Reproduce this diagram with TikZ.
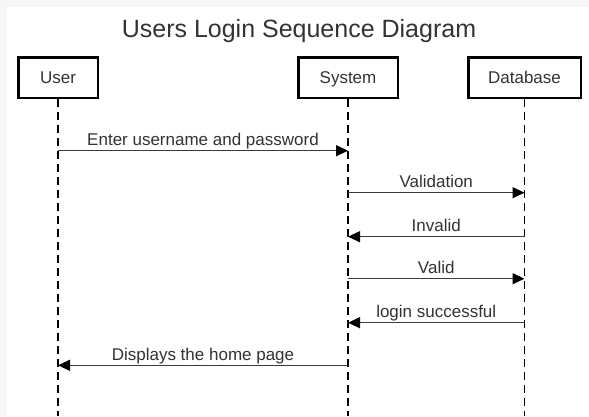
\documentclass[tikz,border=0pt]{standalone}
\usepackage{fontspec}
\setmainfont{Liberation Sans}
\usetikzlibrary{arrows.meta}
\definecolor{textgray}{HTML}{333333}
\definecolor{linegray}{HTML}{3A3A3A}
\definecolor{framegray}{HTML}{F6F6F6}
\begin{document}
\begin{tikzpicture}[x=1pt,y=-1pt,
  actor/.style={draw=black, line width=2.5pt, inner sep=0pt,
    minimum height=40.5pt, text height=12.2pt, text depth=0pt,
    font=\fontsize{17}{20}\selectfont, text=textgray},
  lifeline/.style={draw=black, line width=1.5pt, dash pattern=on 8pt off 5pt},
  msg/.style={draw=linegray, line width=1.3pt,
    -{Triangle[length=12pt,width=11pt,fill=black,color=black]}},
  lbl/.style={font=\fontsize{17}{20}\selectfont, text=textgray,
    anchor=base, inner sep=0pt, yshift=5pt}
]
% canvas: faint frame on the top and left, white panel
\fill[framegray] (0,0) rectangle (589,416);
\fill[white] (7,7) rectangle (589,416);
\useasboundingbox (0,0) rectangle (589,416);

% title
\node[font=\fontsize{25}{30}\selectfont, text=textgray, anchor=base] (title) at (299,37) {Users Login Sequence Diagram};

% participants
\node[actor, minimum width=79.5pt] (user) at (58,77.5) {User};
\node[actor, minimum width=99.5pt] (system) at (348,77.5) {System};
\node[actor, minimum width=112.5pt] (db) at (524.5,77.5) {Database};

% lifeline ends
\coordinate (userEnd) at (58,416);
\coordinate (sysEnd) at (348,416);
\coordinate (dbEnd) at (524.5,416);

\draw[lifeline] (user.south) -- (userEnd);
\draw[lifeline] (system.south) -- (sysEnd);
\draw[lifeline] (db.south) -- (dbEnd);

% message anchor points on the lifelines
\coordinate (u1) at (58,150.7);
\coordinate (s1) at (348,150.7);
\coordinate (s2) at (348,192.7);
\coordinate (d2) at (524.5,192.7);
\coordinate (s3) at (348,236.7);
\coordinate (d3) at (524.5,236.7);
\coordinate (s4) at (348,278.7);
\coordinate (d4) at (524.5,278.7);
\coordinate (s5) at (348,322.7);
\coordinate (d5) at (524.5,322.7);
\coordinate (s6) at (348,365.3);
\coordinate (u6) at (58,365.3);

% messages
\draw[msg] (u1) -- (s1) node[lbl, midway] (m1) {Enter username and password};
\draw[msg] (s2) -- (d2) node[lbl, midway] (m2) {Validation};
\draw[msg] (d3) -- (s3) node[lbl, midway] (m3) {Invalid};
\draw[msg] (s4) -- (d4) node[lbl, midway] (m4) {Valid};
\draw[msg] (d5) -- (s5) node[lbl, midway] (m5) {login successful};
\draw[msg] (s6) -- (u6) node[lbl, midway] (m6) {Displays the home page};
\end{tikzpicture}
\end{document}
